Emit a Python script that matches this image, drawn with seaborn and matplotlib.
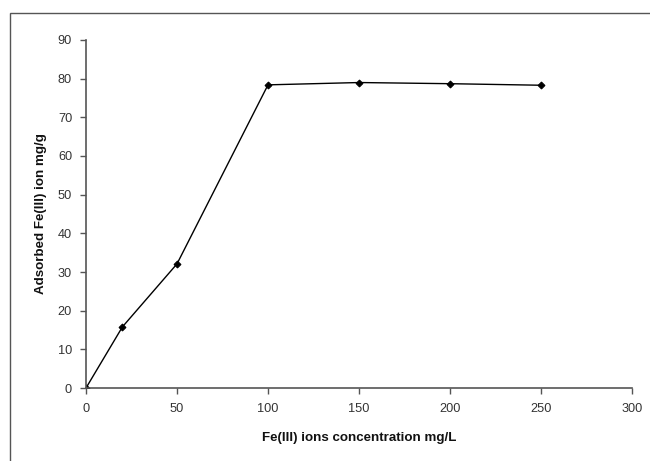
import matplotlib
matplotlib.use("Agg")
import matplotlib.pyplot as plt
import seaborn as sns
import pandas as pd
from matplotlib.patches import Rectangle

concentration = [0, 20, 50, 100, 150, 200, 250]
adsorbed = [0, 15.8, 32.1, 78.4, 79.0, 78.7, 78.3]
x_ticks = [0, 50, 100, 150, 200, 250, 300]
y_ticks = [0, 10, 20, 30, 40, 50, 60, 70, 80, 90]

sns.set_style("white")
plt.rcParams['font.family'] = ['Liberation Sans', 'DejaVu Sans']

df = pd.DataFrame({"conc": concentration, "ads": adsorbed})

fig = plt.figure(figsize=(6.5, 4.61), dpi=100)
ax = fig.add_axes([86/650, 1-388/461, (632-86)/650, (388-40)/461])

sns.lineplot(data=df, x="conc", y="ads", ax=ax, color="black", linewidth=1.0,
             marker="D", markersize=3.5, markeredgecolor="black", markerfacecolor="black")

ax.set_xlim(0, 300)
ax.set_ylim(0, 90)
ax.set_xticks(x_ticks)
ax.set_yticks(y_ticks)
ax.tick_params(axis="both", direction="out", length=4, width=1, color="#555555",
               labelsize=9.2, labelcolor="#333333", left=True, bottom=True)
ax.tick_params(axis="x", pad=7)
ax.tick_params(axis="y", pad=6)
for s in ["top", "right"]:
    ax.spines[s].set_visible(False)
for s in ["left", "bottom"]:
    ax.spines[s].set_color("#555555")
    ax.spines[s].set_linewidth(1.2)

ax.set_xlabel("Fe(III) ions concentration mg/L", fontsize=9.6, fontweight="bold", color="#111111", labelpad=12)
ax.set_ylabel("Adsorbed Fe(III) ion mg/g", fontsize=9.6, fontweight="bold", color="#111111", labelpad=8)

fig.patches.append(Rectangle((10/650, -0.05), 1.1, (1-13/461)+0.05, transform=fig.transFigure,
                             fill=False, edgecolor="#555555", linewidth=1.0))

fig.savefig("out.png", dpi=100)
